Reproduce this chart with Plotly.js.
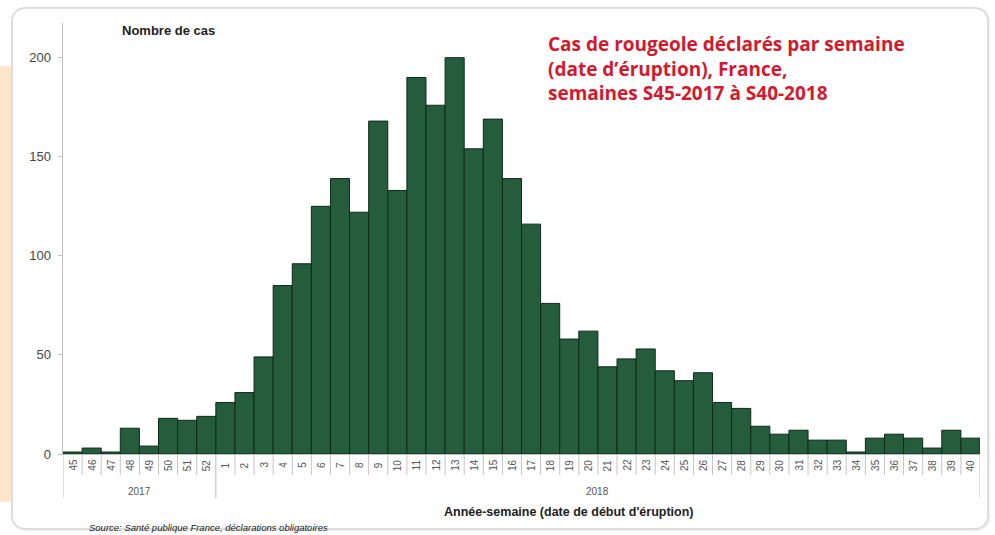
<!DOCTYPE html>
<html>
<head>
<meta charset="utf-8">
<script src="https://cdn.plot.ly/plotly-3.0.1.min.js"></script>
<style>
  html, body { margin: 0; padding: 0; background: #ffffff; width: 995px; height: 535px; overflow: hidden; }
  #strip { position: absolute; left: 0; top: 66px; width: 14px; height: 436px; background: #fde5cc; }
  #card { position: absolute; left: 11px; top: 7px; width: 974px; height: 519px; border: 2px solid #dddddd; border-radius: 14px; background: #ffffff; box-shadow: 1px 1px 2px rgba(0,0,0,0.08); }
  #chart { position: absolute; left: 0; top: 0; width: 995px; height: 535px; }
</style>
</head>
<body>
<div id="strip"></div>
<div id="card"></div>
<div id="chart"></div>
<script>
// Weeks and years
const years = ["2017", "2018"];
const weeks2017 = ["45", "46", "47", "48", "49", "50", "51", "52"];
const weeks2018 = ["1", "2", "3", "4", "5", "6", "7", "8", "9", "10",
                   "11", "12", "13", "14", "15", "16", "17", "18", "19", "20",
                   "21", "22", "23", "24", "25", "26", "27", "28", "29", "30",
                   "31", "32", "33", "34", "35", "36", "37", "38", "39", "40"];
// Cases per week
const cases2017 = [1, 3, 1, 13, 4, 18, 17, 19];
const cases2018 = [26, 31, 49, 85, 96, 125, 139, 122, 168, 133,
                   190, 176, 200, 154, 169, 139, 116, 76, 58, 62,
                   44, 48, 53, 42, 37, 41, 26, 23, 14, 10,
                   12, 7, 7, 1, 8, 10, 8, 3, 12, 8];
const yTicks = [0, 50, 100, 150, 200];

const weekLevel = weeks2017.concat(weeks2018);
const values = cases2017.concat(cases2018);

const trace = {
  type: "bar",
  x: weekLevel,
  y: values,
  marker: { color: "#245c3c", line: { color: "#0f2a19", width: 1 } },
  hoverinfo: "x+y"
};

// paper coordinate helpers (plot area: x 63..980, y 23..454 px)
const L = 63, R = 980, T = 23, B = 454;
const px = v => (v - L) / (R - L);
const py = v => (B - v) / (B - T);

// year groups derived from the week arrays
const groups = [
  { year: years[0], start: 0, end: weeks2017.length },
  { year: years[1], start: weeks2017.length, end: weeks2017.length + weeks2018.length }
];
const groupBounds = [0, weeks2017.length, weeks2017.length + weeks2018.length];

const yearAnnotations = groups.map(g => ({
  text: g.year, showarrow: false,
  xref: "x", yref: "paper",
  x: (g.start + g.end - 1) / 2, y: py(491),
  xanchor: "center", yanchor: "middle",
  font: { size: 10, color: "#555" }
}));

// rotated week labels (one per category, placed at the category index)
const weekAnnotations = weekLevel.map((w, i) => ({
  text: w, showarrow: false,
  xref: "x", yref: "paper",
  x: i, y: py(465),
  xanchor: "center", yanchor: "middle",
  textangle: -90,
  font: { size: 10, color: "#555" }
}));

// short separators between every week, long ones between years
const weekSeparators = weekLevel.map((w, i) => i).concat([weekLevel.length])
  .filter(i => groupBounds.indexOf(i) < 0)
  .map(i => ({
    type: "line", xref: "x", yref: "paper",
    x0: i - 0.5, x1: i - 0.5, y0: 0, y1: py(475),
    line: { color: "#c4c4c4", width: 1 }
  }));
const yearSeparators = groupBounds.map(b => ({
  type: "line", xref: "x", yref: "paper",
  x0: b - 0.5, x1: b - 0.5, y0: 0, y1: py(498),
  line: { color: "#bdbdbd", width: 1 }
}));

const layout = {
  width: 995, height: 535,
  margin: { l: L, r: 995 - R, t: T, b: 535 - B },
  paper_bgcolor: "rgba(0,0,0,0)",
  plot_bgcolor: "rgba(0,0,0,0)",
  bargap: 0,
  showlegend: false,
  font: { family: "Liberation Sans, Arial, sans-serif", color: "#444" },
  title: {
    text: "Cas de rougeole déclarés par semaine<br>(date d’éruption), France,<br>semaines S45-2017 à S40-2018",
    font: { family: "Open Sans, sans-serif", size: 19, color: "#d3192e", weight: "bold" },
    xref: "paper", x: px(548), xanchor: "left",
    yref: "container", y: 1 - 51 / 535, yanchor: "top",
    automargin: false
  },
  xaxis: {
    type: "category",
    range: [-0.5, weekLevel.length - 0.5],
    showline: true, linecolor: "#bdbdbd", linewidth: 1,
    ticks: "",
    showticklabels: false,
    showgrid: false, zeroline: false,
    automargin: false,
    fixedrange: true
  },
  yaxis: {
    range: [0, 217.5],
    tickvals: yTicks,
    showline: true, linecolor: "#c4c4c4", linewidth: 1.5,
    ticks: "outside", ticklen: 4, tickcolor: "#c4c4c4",
    showgrid: false, zeroline: false,
    tickfont: { size: 13, color: "#444" },
    ticklabelstandoff: 4,
    automargin: false,
    fixedrange: true
  },
  shapes: weekSeparators.concat(yearSeparators),
  annotations: [
    {
      text: "Nombre de cas", showarrow: false,
      xref: "paper", yref: "paper", x: px(120), y: py(30),
      xanchor: "left", yanchor: "middle",
      font: { size: 13, color: "#222", weight: "bold" }
    },
    {
      text: "Année-semaine (date de début d'éruption)", showarrow: false,
      xref: "paper", yref: "paper", x: px(569), y: py(512),
      xanchor: "center", yanchor: "middle",
      font: { size: 12.5, color: "#222", weight: "bold" }
    },
    {
      text: "<i>Source: Santé publique France, déclarations obligatoires</i>", showarrow: false,
      xref: "paper", yref: "paper", x: px(87), y: py(527),
      xanchor: "left", yanchor: "middle",
      font: { size: 9.5, color: "#222" }
    }
  ].concat(weekAnnotations, yearAnnotations)
};

Plotly.newPlot("chart", [trace], layout, { displayModeBar: false, staticPlot: true });
</script>
</body>
</html>
